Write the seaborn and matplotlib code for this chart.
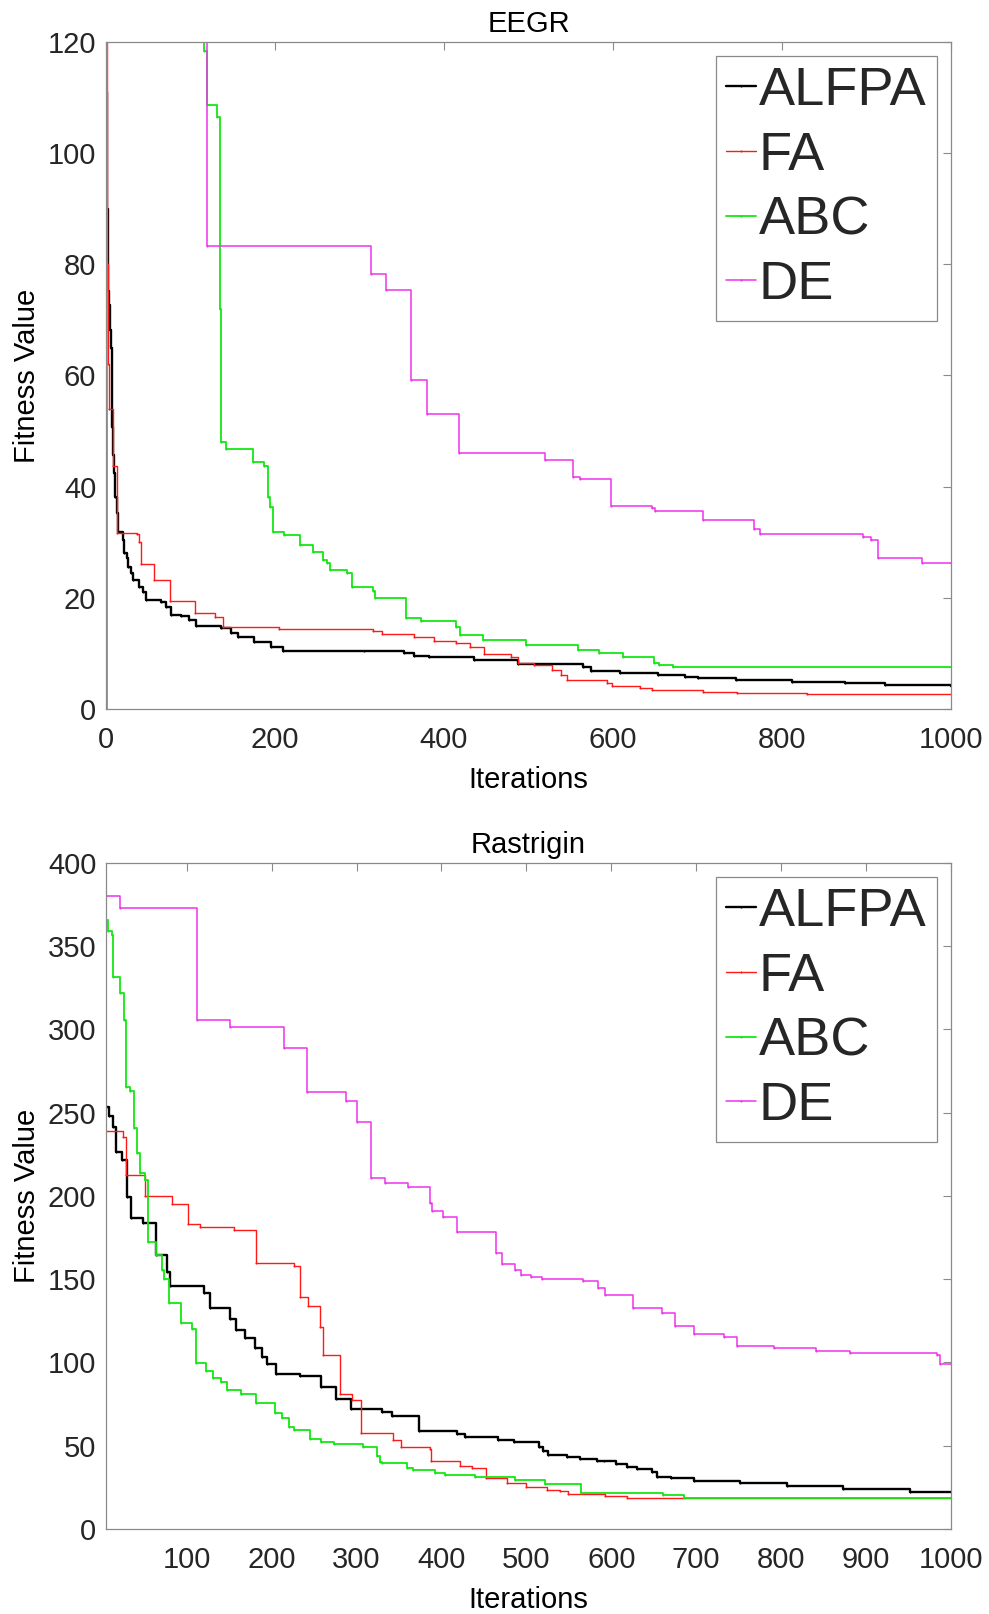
import numpy as np
import pandas as pd
import matplotlib
matplotlib.use('Agg')
import matplotlib.pyplot as plt
import seaborn as sns

algorithms = ['ALFPA', 'FA', 'ABC', 'DE']
colors = ['#000000', '#ff1a1a', '#14e614', '#ee33ee']
widths = [1.7, 1.0, 1.3, 1.1]

# ---------------- EEGR ----------------
eegr_alfpa_it = [0, 1, 2, 4, 5, 6, 7, 8, 9, 11, 13, 14, 18, 20, 21, 25, 26, 30, 32, 39,
                 44, 47, 65, 71, 77, 89, 98, 106, 136, 148, 156, 175, 195, 210, 305, 353,
                 365, 382, 435, 487, 564, 574, 608, 653, 685, 700, 745, 812, 875, 922, 1000]
eegr_alfpa_val = [111, 90, 75.2, 72.6, 68.2, 64.9, 50.8, 45.7, 42.4, 38.2, 35.2, 31.9, 31.8,
                  30.4, 28.0, 27.1, 25.6, 24.4, 23.2, 22.0, 21.1, 19.7, 19.3, 18.4, 16.9, 16.7,
                  16.0, 14.9, 14.5, 13.7, 12.9, 12.1, 11.2, 10.5, 10.4, 10.0, 9.6, 9.3, 8.9,
                  8.1, 7.6, 6.9, 6.4, 6.1, 5.8, 5.5, 5.3, 4.9, 4.6, 4.3, 4.1]

eegr_fa_it = [0, 1, 2, 4, 8, 13, 37, 39, 41, 57, 76, 105, 129, 139, 205, 316, 327, 364, 388,
              414, 431, 447, 479, 487, 506, 528, 538, 546, 593, 599, 632, 646, 707, 747, 829, 1000]
eegr_fa_val = [150, 80, 62, 53.9, 43.7, 31.6, 31.5, 30.1, 26.1, 23.2, 19.4, 17.2, 16.5, 14.8,
               14.4, 14.1, 13.5, 13.0, 12.3, 11.9, 11.2, 9.9, 9.3, 8.2, 7.9, 7.1, 6.1, 5.2,
               4.6, 4.1, 3.8, 3.5, 3.1, 2.9, 2.75, 2.7]

eegr_abc_it = [0, 1, 116, 120, 131, 135, 136, 142, 174, 187, 192, 194, 198, 211, 230, 245,
               257, 262, 265, 285, 291, 316, 318, 355, 373, 414, 419, 446, 497, 558, 583, 612,
               648, 655, 671, 1000]
eegr_abc_val = [0, 150, 118.4, 108.7, 106.5, 72.0, 48.0, 46.7, 44.5, 43.7, 38.1, 36.4, 31.9,
                31.3, 29.5, 28.3, 26.8, 26.3, 25.1, 24.4, 21.9, 21.3, 20.0, 16.3, 15.9, 14.8,
                13.3, 12.5, 11.5, 10.7, 10.0, 9.4, 8.2, 7.9, 7.6, 7.6]

eegr_de_it = [0, 119, 314, 331, 361, 380, 418, 519, 553, 561, 598, 646, 650, 706, 767, 774,
              896, 905, 914, 966, 1000]
eegr_de_val = [140, 83.3, 78.3, 75.3, 59.2, 53.0, 46.1, 44.8, 41.8, 41.4, 36.6, 36.2, 35.6,
               34.0, 32.4, 31.5, 31.0, 30.4, 27.2, 26.2, 26.2]

# ---------------- Rastrigin ----------------
ras_alfpa_it = [5, 9, 13, 17, 24, 30, 34, 49, 64, 77, 80, 120, 127, 151, 158, 169, 180, 189,
                194, 205, 233, 258, 276, 293, 330, 342, 373, 418, 428, 467, 485, 515, 520, 526,
                548, 563, 583, 591, 606, 618, 630, 648, 654, 670, 697, 752, 807, 873, 952, 1000]
ras_alfpa_val = [253.7, 248.0, 241.2, 226.6, 221.6, 199.2, 186.6, 183.6, 164.6, 154.5, 145.9,
                 141.9, 132.5, 125.9, 119.5, 114.9, 108.5, 103.5, 99.1, 93.1, 91.9, 85.1, 77.9,
                 71.9, 70.5, 67.9, 58.9, 57.0, 55.4, 53.5, 52.4, 49.4, 47.0, 44.4, 43.0, 41.9,
                 41.0, 40.6, 39.2, 37.4, 36.0, 34.4, 31.4, 30.5, 29.0, 27.8, 25.8, 23.8, 22.4, 22.0]

ras_fa_it = [5, 25, 28, 29, 51, 83, 102, 116, 156, 182, 226, 233, 243, 257, 260, 280, 295,
             305, 343, 352, 386, 388, 422, 436, 452, 477, 499, 524, 540, 549, 593, 619, 1000]
ras_fa_val = [239.2, 235.6, 221.6, 212.6, 200.0, 195.4, 183.4, 181.1, 179.4, 159.6, 158.0,
              139.5, 133.9, 121.5, 104.5, 80.9, 77.5, 57.8, 53.5, 49.1, 47.9, 40.8, 37.8, 36.4,
              30.4, 27.8, 25.4, 23.4, 22.8, 21.0, 19.8, 18.8, 18.8]

ras_abc_it = [5, 7, 12, 13, 22, 26, 29, 33, 38, 41, 45, 51, 54, 64, 71, 73, 79, 93, 106, 111,
              123, 131, 140, 148, 164, 182, 204, 212, 221, 226, 245, 258, 274, 308, 324, 328,
              330, 359, 367, 392, 404, 439, 487, 522, 564, 661, 685, 1000]
ras_abc_val = [365.8, 359.4, 356.8, 331.7, 321.7, 306.0, 265.6, 263.2, 240.6, 225.6, 213.6,
               209.6, 172.6, 164.6, 155.6, 150.0, 135.6, 123.9, 119.9, 99.9, 95.1, 90.5, 88.5,
               83.5, 80.9, 75.9, 69.5, 66.5, 61.4, 59.5, 53.9, 52.4, 51.1, 49.1, 44.0, 40.4,
               39.4, 36.4, 35.4, 33.8, 32.4, 31.0, 29.4, 27.0, 21.4, 20.4, 18.8, 18.8]

ras_de_it = [5, 21, 112, 151, 214, 242, 288, 300, 317, 333, 360, 386, 389, 402, 418, 464, 471,
             487, 494, 506, 518, 567, 584, 593, 625, 660, 675, 697, 733, 748, 791, 841, 881,
             983, 987, 1000]
ras_de_val = [380.4, 372.8, 305.7, 301.3, 288.7, 262.6, 257.2, 244.2, 210.6, 207.6, 205.5,
              196.0, 191.2, 187.2, 178.2, 166.0, 159.0, 155.6, 152.6, 151.2, 150.2, 149.1,
              144.6, 140.5, 132.5, 129.9, 121.9, 117.1, 115.1, 109.9, 108.5, 107.1, 105.5,
              104.5, 99.1, 99.1]

eegr_x_ticks = [0, 200, 400, 600, 800, 1000]
eegr_y_ticks = [0, 20, 40, 60, 80, 100, 120]
ras_x_ticks = [100, 200, 300, 400, 500, 600, 700, 800, 900, 1000]
ras_y_ticks = [0, 50, 100, 150, 200, 250, 300, 350, 400]

sns.set_style('white')
plt.rcParams['font.family'] = ['Liberation Sans', 'DejaVu Sans']

fig = plt.figure(figsize=(9.89, 16.14), dpi=100)
ax1 = fig.add_axes([0.1072, 0.5607, 0.8544, 0.4133])
ax2 = fig.add_axes([0.1072, 0.0527, 0.8544, 0.4126])

GRAY = '#8a8a8a'
FS = 21


def draw(ax, series, title, xlim, ylim, xticks, yticks):
    for (name, it, val), c, w in zip(series, colors, widths):
        df = pd.DataFrame({'Iterations': it, 'Fitness Value': val})
        sns.lineplot(data=df, x='Iterations', y='Fitness Value', ax=ax, color=c, lw=w,
                     label=name, drawstyle='steps-post', marker='.', markersize=3,
                     markeredgewidth=0, estimator=None, sort=False)
    ax.set_xlim(*xlim)
    ax.set_ylim(*ylim)
    ax.set_xticks(xticks)
    ax.set_yticks(yticks)
    ax.tick_params(direction='in', length=5.5, width=0.8, color=GRAY, labelsize=FS,
                   labelcolor='#262626', top=True, right=True, pad=7)
    ax.tick_params(axis='x', pad=12)
    for s in ax.spines.values():
        s.set_color(GRAY)
        s.set_linewidth(0.9)
    ax.set_title(title, fontsize=FS, pad=7.5, color='black')
    ax.set_xlabel('Iterations', fontsize=FS, labelpad=9, color='black')
    ax.set_ylabel('Fitness Value', fontsize=FS, labelpad=5, color='black')
    leg = ax.legend(loc='upper right', fontsize=39, handlelength=0.55, handletextpad=0.05,
                    labelspacing=0.27, borderpad=0.2, borderaxespad=0.25, fancybox=False,
                    framealpha=1, edgecolor=GRAY)
    leg.get_frame().set_linewidth(0.9)


draw(ax1,
     [(algorithms[0], eegr_alfpa_it, eegr_alfpa_val),
      (algorithms[1], eegr_fa_it, eegr_fa_val),
      (algorithms[2], eegr_abc_it, eegr_abc_val),
      (algorithms[3], eegr_de_it, eegr_de_val)],
     'EEGR', (0, 1000), (0, 120), eegr_x_ticks, eegr_y_ticks)

draw(ax2,
     [(algorithms[0], ras_alfpa_it, ras_alfpa_val),
      (algorithms[1], ras_fa_it, ras_fa_val),
      (algorithms[2], ras_abc_it, ras_abc_val),
      (algorithms[3], ras_de_it, ras_de_val)],
     'Rastrigin', (5, 1000), (0, 400), ras_x_ticks, ras_y_ticks)

fig.savefig('out.png', dpi=100)
